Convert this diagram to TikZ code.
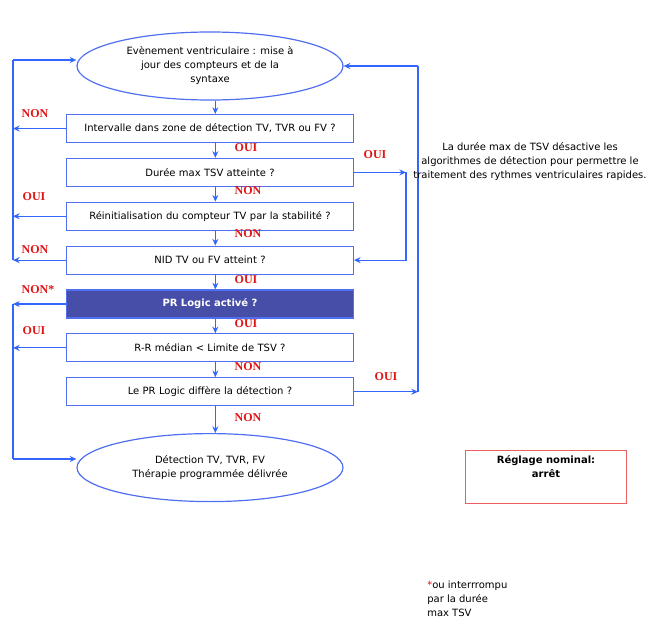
\documentclass[tikz,border=0pt]{standalone}
\usepackage{fontspec}
\setmainfont{DejaVu Sans}
\newfontfamily\answerfont{Liberation Serif}
\usepackage{xcolor}
\usepackage{tikz}
\usetikzlibrary{shapes.geometric, arrows.meta, positioning, calc}

\definecolor{flowblue}{RGB}{51,102,255}
\definecolor{boxblue}{RGB}{80,110,240}
\definecolor{darkfill}{RGB}{70,78,168}
\definecolor{answerred}{RGB}{225,20,20}
\definecolor{nominalred}{RGB}{240,95,95}

\begin{document}
\begin{tikzpicture}[
    x=0.75pt, y=-0.75pt,
    node distance=11pt,
    block/.style={
        rectangle, draw=boxblue, line width=0.9pt,
        text width=215pt, minimum height=21pt, inner sep=0pt,
        align=center, font=\fontsize{7.5}{10.5}\selectfont
    },
    event/.style={
        ellipse, draw=boxblue, line width=0.9pt,
        minimum width=199.5pt, minimum height=51pt, inner sep=0pt,
        align=center, font=\fontsize{7.5}{10.5}\selectfont
    },
    arrow/.style={-{Stealth[length=5pt,width=4.5pt]}, draw=flowblue, line width=0.9pt},
    link/.style={draw=flowblue, line width=0.9pt},
    answer/.style={font=\answerfont\bfseries\fontsize{9}{10}\selectfont, text=answerred, inner sep=0pt},
    note/.style={font=\fontsize{7.5}{10.5}\selectfont, align=center, inner sep=0pt}
]
\useasboundingbox (0,0) rectangle (654,635);

% -- main column --
\node[event] (start) at (210,66) {Evènement ventriculaire : mise à\\jour des compteurs et de la\\syntaxe};
\node[block, below=10pt of start] (zone) {Intervalle dans zone de détection TV, TVR ou FV ?};
\node[block, below=of zone] (tsvmax) {Durée max TSV atteinte ?};
\node[block, below=of tsvmax] (stab) {Réinitialisation du compteur TV par la stabilité ?};
\node[block, below=of stab] (nid) {NID TV ou FV atteint ?};
\node[block, below=of nid, fill=darkfill, text=white, font=\bfseries\fontsize{7.5}{10.5}\selectfont] (prlogic) {PR Logic activé ?};
\node[block, below=of prlogic] (median) {R-R médian < Limite de TSV ?};
\node[block, below=of median] (differ) {Le PR Logic diffère la détection ?};
\node[event, below=20pt of differ] (therapy) {Détection TV, TVR, FV\\Thérapie programmée délivrée};

\draw[arrow] ([xshift=4pt]start.south) -- ([xshift=4pt]zone.north);
\draw[arrow] ([xshift=4pt]zone.south) -- ([xshift=4pt]tsvmax.north);
\draw[arrow] ([xshift=4pt]tsvmax.south) -- ([xshift=4pt]stab.north);
\draw[arrow] ([xshift=4pt]stab.south) -- ([xshift=4pt]nid.north);
\draw[arrow] ([xshift=4pt]nid.south) -- ([xshift=4pt]prlogic.north);
\draw[arrow] ([xshift=4pt]prlogic.south) -- ([xshift=4pt]median.north);
\draw[arrow] ([xshift=4pt]median.south) -- ([xshift=4pt]differ.north);
\draw[arrow] ([xshift=4pt]differ.south) -- ([xshift=4pt]therapy.north);

% -- left returns --
\coordinate (ltop) at (13,60);
\coordinate (lbot) at (13,459);
\draw[arrow] (zone.west) -- (zone.west -| ltop);
\draw[arrow] (stab.west) -- (stab.west -| ltop);
\draw[arrow] (nid.west) -- (nid.west -| ltop);
\draw[link] (nid.west -| ltop) -- (ltop);
\draw[arrow] (ltop) -- (ltop -| start.west);

\draw[arrow] (prlogic.west) -- (prlogic.west -| lbot);
\draw[arrow] (median.west) -- (median.west -| lbot);
\draw[link] (prlogic.west -| lbot) -- (lbot);
\draw[arrow] (lbot) -- (lbot -| therapy.west);

% -- right returns --
\coordinate (rtop) at (418,66);
\coordinate (rmid) at (406,170);
\draw[arrow] (differ.east) -- (differ.east -| rtop);
\draw[link] (differ.east -| rtop) -- (rtop);
\draw[arrow] (rtop) -- (start.east);
\draw[arrow] (tsvmax.east) -- (tsvmax.east -| rmid);
\draw[arrow] (tsvmax.east -| rmid) |- (nid.east);

% -- answers --
\node[answer] (a1) at (35,114) {NON};
\node[answer] (a2) at (246,148) {OUI};
\node[answer] (a3) at (375,155) {OUI};
\node[answer] (a4) at (248,191) {NON};
\node[answer] (a5) at (34,197) {OUI};
\node[answer] (a6) at (248,234) {NON};
\node[answer] (a7) at (35,250) {NON};
\node[answer] (a8) at (246,280) {OUI};
\node[answer] (a9) at (38,290) {NON*};
\node[answer] (a10) at (246,324) {OUI};
\node[answer] (a11) at (34,331) {OUI};
\node[answer] (a12) at (248,367) {NON};
\node[answer] (a13) at (386,377) {OUI};
\node[answer] (a14) at (248,418) {NON};

% -- notes --
\node[note] (tsvnote) at (530,162) {La durée max de TSV désactive les\\algorithmes de détection pour permettre le\\traitement des rythmes ventriculaires rapides.};
\node[draw=nominalred, line width=0.9pt, minimum width=120.75pt, minimum height=39.5pt, inner sep=0pt] (nominal) at (546,477) {};
\node[note, font=\bfseries\fontsize{7.5}{10.5}\selectfont, below=4pt of nominal.north] (nomtext) {Réglage nominal:\\arrêt};
\node[note, align=left, anchor=north west] (footnote) at (427,581) {\textcolor{answerred}{*}ou interrrompu\\par la durée\\max TSV};

\end{tikzpicture}
\end{document}
